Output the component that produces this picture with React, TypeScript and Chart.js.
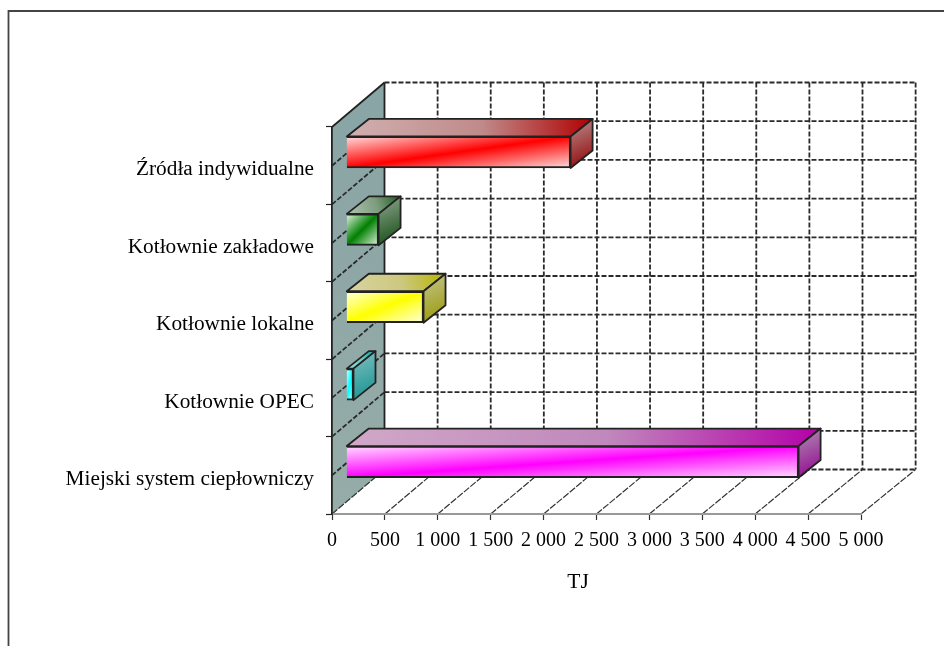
import React, { useEffect, useRef } from "react";
import { Chart, registerables } from "chart.js";

Chart.register(...registerables);

const categories = [
  "Źródła indywidualne",
  "Kotłownie zakładowe",
  "Kotłownie lokalne",
  "Kotłownie OPEC",
  "Miejski system ciepłowniczy",
];
const valuesTJ = [2120, 305, 730, 68, 4275];
const axisTitle = "TJ";

const faceMain = ["#ff0000", "#008000", "#ffff00", "#00ffff", "#ff00ff"];
const faceLight = ["#ffdcdc", "#e4f4e4", "#ffffdc", "#dcffff", "#ffdcff"];
const topStart = ["#d0b0b0", "#b0c4b0", "#d8d4a0", "#a0dcdc", "#d0a8c8"];
const topMid = ["#c08a8a", "#7e9c7e", "#ccc880", "#6cc4c4", "#c088bc"];
const topEnd = ["#b00000", "#1c5c1c", "#b8b400", "#00a0a0", "#b400a8"];
const sideStart = ["#b89090", "#90a890", "#c4c490", "#84c0c0", "#b090b0"];
const sideEnd = ["#900000", "#104810", "#989800", "#109090", "#900090"];

const FONT = "'Liberation Serif', 'Times New Roman', serif";
const WALL_DX = 53;
const WALL_DY = -44.5;
const BACK_STRETCH = 1.004;
const BAR_SHIFT_X = 14.3;
const BAR_SHIFT_Y = -13.5;
const BAR_DX = 22;
const BAR_DY = -17.5;

function line(ctx: CanvasRenderingContext2D, x1: number, y1: number, x2: number, y2: number) {
  ctx.beginPath();
  ctx.moveTo(x1, y1);
  ctx.lineTo(x2, y2);
  ctx.stroke();
}

const scene3d = {
  id: "scene3d",
  beforeDraw(chart: any) {
    const { ctx, chartArea: a, scales } = chart;
    const x = scales.x;
    const y = scales.y;
    const backX = (px: number) => a.left + WALL_DX - 0.5 + (px - a.left) * BACK_STRETCH;
    ctx.save();

    // outer frame
    ctx.strokeStyle = "#444";
    ctx.lineWidth = 1.8;
    ctx.beginPath();
    ctx.moveTo(8.5, 646);
    ctx.lineTo(8.5, 11);
    ctx.lineTo(944, 11);
    ctx.stroke();

    // side wall
    const wall = ctx.createLinearGradient(0, a.top, 0, a.bottom);
    wall.addColorStop(0, "#8aa5a5");
    wall.addColorStop(1, "#96aca8");
    ctx.fillStyle = wall;
    ctx.beginPath();
    ctx.moveTo(a.left, a.top);
    ctx.lineTo(backX(a.left), a.top + WALL_DY);
    ctx.lineTo(backX(a.left), a.bottom + WALL_DY);
    ctx.lineTo(a.left, a.bottom);
    ctx.closePath();
    ctx.fill();

    // floor lines
    ctx.strokeStyle = "#333";
    ctx.lineWidth = 1.2;
    ctx.setLineDash([7, 1.5]);
    for (let v = 0; v <= 5000; v += 500) {
      const px = x.getPixelForValue(v);
      line(ctx, px, a.bottom, backX(px), a.bottom + WALL_DY);
    }

    // back wall and side wall grid
    ctx.strokeStyle = "#2a2a2a";
    ctx.lineWidth = 1.8;
    ctx.setLineDash([5, 2]);
    for (let k = 0; k <= 10; k++) {
      const py = y.getPixelForDecimal(k / 10);
      line(ctx, backX(a.left), py + WALL_DY, backX(a.right), py + WALL_DY);
      if (k > 0 && k < 10) line(ctx, a.left, py, backX(a.left), py + WALL_DY);
    }
    for (let v = 500; v <= 5000; v += 500) {
      const px = backX(x.getPixelForValue(v));
      line(ctx, px, a.top + WALL_DY, px, a.bottom + WALL_DY);
    }
    ctx.setLineDash([]);

    // solid wall edges
    ctx.strokeStyle = "#222";
    ctx.lineWidth = 1.8;
    line(ctx, a.left, a.top, backX(a.left), a.top + WALL_DY);
    line(ctx, backX(a.left), a.top + WALL_DY, backX(a.left), a.bottom + WALL_DY);

    ctx.restore();
  },
  beforeDatasetDraw(chart: any) {
    chart.ctx.save();
    chart.ctx.translate(BAR_SHIFT_X, BAR_SHIFT_Y);
  },
  afterDatasetDraw(chart: any, args: any) {
    const ctx = chart.ctx as CanvasRenderingContext2D;
    args.meta.data.forEach((bar: any, i: number) => {
      const { x, y, base, height } = bar.getProps(["x", "y", "base", "height"], true);
      const t = y - height / 2;
      const b = y + height / 2;

      const top = ctx.createLinearGradient(base, t, x + BAR_DX, t + BAR_DY);
      top.addColorStop(0, topStart[i]);
      top.addColorStop(0.55, topMid[i]);
      top.addColorStop(1, topEnd[i]);
      ctx.beginPath();
      ctx.moveTo(base, t);
      ctx.lineTo(base + BAR_DX, t + BAR_DY);
      ctx.lineTo(x + BAR_DX, t + BAR_DY);
      ctx.lineTo(x, t);
      ctx.closePath();
      ctx.fillStyle = top;
      ctx.fill();
      ctx.strokeStyle = "#222";
      ctx.lineWidth = 1.8;
      ctx.lineJoin = "round";
      ctx.stroke();

      const side = ctx.createLinearGradient(x, t + BAR_DY, x + BAR_DX, b);
      side.addColorStop(0, sideStart[i]);
      side.addColorStop(1, sideEnd[i]);
      ctx.beginPath();
      ctx.moveTo(x, t);
      ctx.lineTo(x + BAR_DX, t + BAR_DY);
      ctx.lineTo(x + BAR_DX, b + BAR_DY);
      ctx.lineTo(x, b);
      ctx.closePath();
      ctx.fillStyle = side;
      ctx.fill();
      ctx.stroke();
    });
    ctx.restore();
  },
  afterDraw(chart: any) {
    const { ctx } = chart;
    ctx.save();
    ctx.fillStyle = "#000";
    ctx.font = `21.5px ${FONT}`;
    ctx.textAlign = "center";
    ctx.textBaseline = "middle";
    ctx.fillText(axisTitle, 578, 582);
    ctx.restore();
  },
};

export default function App() {
  const ref = useRef<HTMLCanvasElement>(null);
  useEffect(() => {
    const chart = new Chart(ref.current!, {
      type: "bar",
      data: {
        labels: categories,
        datasets: [
          {
            data: valuesTJ,
            barThickness: 31.5,
            borderColor: "#222",
            borderWidth: 2,
            clip: false,
            backgroundColor: (c: any) => {
              const i = c.dataIndex;
              if (i === undefined || !c.chart.chartArea) return faceMain[0];
              const { x: xs, y: ys } = c.chart.scales;
              const x0 = xs.getPixelForValue(0);
              const x1 = xs.getPixelForValue(valuesTJ[i]);
              const yc = ys.getPixelForValue(i);
              const w = x1 - x0;
              const h = 31.5;
              const mx = (x0 + x1) / 2;
              const k = (w * h) / (w * w + h * h);
              const g = c.chart.ctx.createLinearGradient(mx - h * k, yc - w * k, mx + h * k, yc + w * k);
              g.addColorStop(0, faceLight[i]);
              g.addColorStop(0.5, faceMain[i]);
              g.addColorStop(1, faceLight[i]);
              return g;
            },
          } as any,
        ],
      },
      options: {
        indexAxis: "y",
        responsive: false,
        animation: false,
        devicePixelRatio: 1,
        layout: { padding: { left: 0, right: 83, top: 127, bottom: 0 } },
        plugins: { legend: { display: false }, tooltip: { enabled: false }, title: { display: false } },
        scales: {
          x: {
            type: "linear",
            min: 0,
            max: 5000,
            afterFit: (s: any) => {
              s.height = 132;
            },
            border: { display: true, color: "#999", width: 2 },
            grid: { drawOnChartArea: false, drawTicks: true, tickLength: 6, tickColor: "#333", tickWidth: 1.2 },
            ticks: {
              stepSize: 500,
              autoSkip: false,
              maxRotation: 0,
              minRotation: 0,
              padding: 9,
              color: "#000",
              font: { family: FONT, size: 20 },
              callback: (v: any) => String(v).replace(/\B(?=(\d{3})+$)/g, " "),
            },
          },
          y: {
            type: "category",
            offset: true,
            afterFit: (s: any) => {
              s.width = 332;
            },
            border: { display: true, color: "#222", width: 1.8 },
            grid: { offset: true, drawOnChartArea: false, drawTicks: true, tickLength: 6, tickColor: "#222", tickWidth: 1.2 },
            ticks: {
              autoSkip: false,
              padding: 12,
              labelOffset: 4,
              color: "#000",
              font: { family: FONT, size: 21.3 },
            },
          },
        },
      },
      plugins: [scene3d],
    } as any);
    return () => chart.destroy();
  }, []);
  return (
    <canvas
      ref={ref}
      width={944}
      height={646}
      style={{ position: "absolute", left: 0, top: 0, display: "block", width: 944, height: 646 }}
    />
  );
}
